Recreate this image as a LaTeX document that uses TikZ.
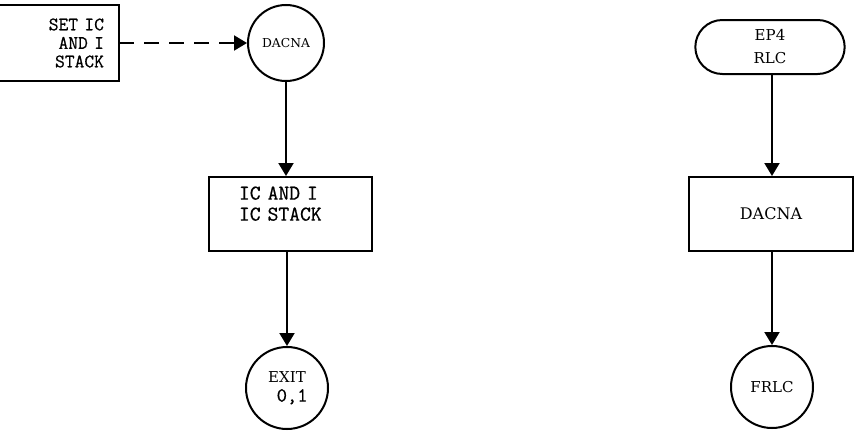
\documentclass[tikz,border=0pt]{standalone}
\usepackage{fontspec}
\setmainfont{DejaVu Serif}
\setmonofont[FakeBold=0.6]{Latin Modern Mono}
\usetikzlibrary{arrows.meta,shapes.misc}
\begin{document}
\begin{tikzpicture}[x=1pt,y=-1pt,
  line width=2pt,
  flow/.style={-{Triangle[width=15pt,length=13pt]}},
  dashflow/.style={flow,dash pattern=on 15pt off 10pt},
  ttx/.style={font=\ttfamily\fontsize{21}{21}\selectfont},
  rmx/.style={font=\rmfamily\fontsize{15}{23}\selectfont},
  circ/.style={circle,draw,inner sep=0pt,minimum size=#1},
  procbox/.style={rectangle,draw,minimum width=#1,minimum height=74pt}
]
\useasboundingbox (0,0) rectangle (855,431);

% left column
\node[align=right,minimum width=118pt,minimum height=74pt,inner xsep=14pt,text width=90pt,
      font=\ttfamily\fontsize{19}{18.5}\selectfont] (setic) at (59,43) {SET IC\\AND I\\STACK};
\draw (setic.north west) -- (setic.north east) -- (setic.south east) -- (setic.south west);

\node[circ=76pt,font=\rmfamily\fontsize{12.3}{15}\selectfont] (dacna1) at (286,43) {DACNA};

\node[procbox=163pt,ttx,align=left,inner xsep=30pt,text width=103pt] (icbox) at (290.5,214)
  {IC AND I\\IC STACK\\~};

\node[circ=82pt,align=center,font=\rmfamily\fontsize{15}{19}\selectfont] (exit) at (287,388)
  {EXIT\\{\ttfamily\fontsize{20}{19}\selectfont\hphantom{,}0,1}};

\draw[dashflow] (setic.east) -- (dacna1.west);
\draw[flow] (dacna1.south) -- (dacna1.south |- icbox.north);
\draw[flow] (exit.north |- icbox.south) -- (exit.north);

% right column
\node[rounded rectangle,draw,minimum width=156pt,minimum height=54pt,align=center,rmx] (ep4) at (770,47)
  {EP4\\RLC};
\node[procbox=164pt,font=\rmfamily\fontsize{16}{19}\selectfont] (dacna2) at (771,214) {DACNA};
\node[circ=82pt,rmx] (frlc) at (772,387) {FRLC};

\draw[flow] (frlc.north |- ep4.south) -- (frlc.north |- dacna2.north);
\draw[flow] (frlc.north |- dacna2.south) -- (frlc.north);
\end{tikzpicture}
\end{document}
